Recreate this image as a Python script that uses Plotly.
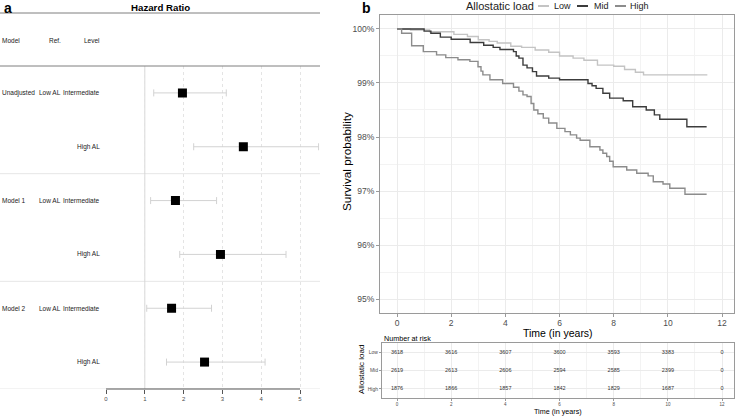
import plotly.graph_objects as go

W, H = 738, 416
FONT = "Liberation Sans, Arial, sans-serif"

def px(x):
    return x / W

def py(y):
    return 1 - y / H

# ---------------- Forest plot data (panel a) ----------------
models = ["Unadjusted", "", "Model 1", "", "Model 2", ""]
refs = ["Low AL", "", "Low AL", "", "Low AL", ""]
levels = ["Intermediate", "High AL", "Intermediate", "High AL", "Intermediate", "High AL"]
hr = [1.97, 3.54, 1.79, 2.95, 1.69, 2.54]
hr_low = [1.23, 2.26, 1.15, 1.90, 1.05, 1.56]
hr_high = [3.10, 5.48, 2.85, 4.64, 2.72, 4.10]
hr_ticks = [0, 1, 2, 3, 4, 5]

# ---------------- Kaplan-Meier data (panel b) ----------------
groups = ["Low", "Mid", "High"]
colors = ["#c4c4c4", "#3c3c3c", "#8c8c8c"]

t_low = [0, 0.5, 1.2, 2.1, 2.6, 3.0, 3.4, 3.7, 4.2, 4.6, 5.1, 5.6, 6.0, 6.5, 6.9, 7.4, 8.0, 8.4, 8.8, 9.1, 11.43]
s_low = [1.0, 0.9998, 0.9995, 0.9990, 0.9986, 0.9980, 0.9977, 0.9974, 0.9968, 0.9966, 0.9961, 0.9957, 0.9950,
         0.9946, 0.9942, 0.9933, 0.9931, 0.9925, 0.9920, 0.9915, 0.9914]

t_mid = [0, 1.0, 1.25, 1.6, 2.0, 2.7, 3.2, 3.55, 3.8, 4.3, 4.4, 4.5, 4.65, 4.8, 5.0, 5.15, 5.6, 6.0, 7.05, 7.2,
         7.35, 7.6, 7.85, 8.35, 8.7, 9.2, 9.5, 9.7, 10.7, 11.43]
s_mid = [1.0, 0.9996, 0.9992, 0.9985, 0.9981, 0.9975, 0.9970, 0.9966, 0.9962, 0.9958, 0.9950, 0.9946, 0.9933,
         0.9928, 0.9921, 0.9913, 0.9909, 0.9906, 0.9899, 0.9895, 0.9890, 0.9881, 0.9872, 0.9867, 0.9856, 0.9850,
         0.9841, 0.9833, 0.9819, 0.9819]

t_high = [0, 0.17, 0.54, 0.97, 1.46, 1.8, 2.25, 2.69, 2.99, 3.1, 3.17, 3.43, 3.9, 4.3, 4.5, 4.65, 4.8, 4.95, 5.05,
          5.2, 5.4, 5.6, 5.9, 6.2, 6.4, 6.63, 6.76, 7.12, 7.49, 7.6, 7.74, 7.85, 7.98, 8.48, 8.85, 9.27, 9.46,
          9.82, 10.07, 10.63, 11.43]
s_high = [1.0, 0.9992, 0.9969, 0.9958, 0.9952, 0.9947, 0.9943, 0.9940, 0.9930, 0.9922, 0.9915, 0.9906, 0.9899,
          0.9892, 0.9885, 0.9878, 0.9875, 0.9862, 0.9850, 0.9843, 0.9835, 0.9826, 0.9816, 0.9810, 0.9804, 0.9798,
          0.9794, 0.9782, 0.9776, 0.9770, 0.9764, 0.9755, 0.9745, 0.9739, 0.9733, 0.9728, 0.9717, 0.9713, 0.9705,
          0.9694, 0.9694]

times = [t_low, t_mid, t_high]
survs = [s_low, s_mid, s_high]

# ---------------- Number at risk ----------------
risk_times = [0, 2, 4, 6, 8, 10, 12]
risk_low = [3618, 3616, 3607, 3600, 3593, 3383, 0]
risk_mid = [2619, 2613, 2606, 2594, 2585, 2399, 0]
risk_high = [1876, 1866, 1857, 1842, 1829, 1687, 0]
risk = [risk_low, risk_mid, risk_high]

fig = go.Figure()

# ---- forest traces ----
rows = list(range(len(hr)))
fig.add_trace(go.Scatter(
    x=hr, y=rows, mode="markers", xaxis="x", yaxis="y",
    marker=dict(symbol="square", size=9, color="black"),
    error_x=dict(type="data", symmetric=False,
                 array=[h - m for h, m in zip(hr_high, hr)],
                 arrayminus=[m - l for m, l in zip(hr, hr_low)],
                 color="#d2d2d2", thickness=1, width=3.5),
    showlegend=False, hoverinfo="skip"))

# ---- KM traces ----
for g, c, t, s in zip(groups, colors, times, survs):
    fig.add_trace(go.Scatter(x=t, y=s, mode="lines", line=dict(color=c, width=1.4, shape="hv"),
                             xaxis="x2", yaxis="y2", name=g, showlegend=False))

# ---- risk table ----
for g, r in zip(groups, risk):
    fig.add_trace(go.Scatter(x=risk_times, y=[g] * len(risk_times), mode="text",
                             text=[str(v) for v in r], textfont=dict(size=5.5, color="#333333", family=FONT),
                             xaxis="x3", yaxis="y3", showlegend=False, hoverinfo="skip"))

tickfont_small = dict(size=6, color="#4d4d4d", family=FONT)
tickfont_km = dict(size=8.5, color="#4d4d4d", family=FONT)

fig.update_layout(
    template="none",
    width=W, height=H, margin=dict(l=0, r=0, t=0, b=0, pad=0),
    paper_bgcolor="white", plot_bgcolor="white",
    font=dict(family=FONT, color="black"),
    xaxis=dict(domain=[px(106), px(319.4)], range=[0, 5.5], tickvals=hr_ticks, anchor="y",
               showgrid=True, gridcolor="#e4e4e4", griddash="dot", gridwidth=1,
               zeroline=False, showline=False, ticks="outside", ticklen=4, tickcolor="#555555",
               tickfont=tickfont_small, fixedrange=True, automargin=False),
    yaxis=dict(domain=[py(389), py(66)], range=[5.5, -0.5], showgrid=False, zeroline=False, anchor="x",
               showticklabels=False, ticks="", fixedrange=True, automargin=False),
    xaxis2=dict(domain=[px(380), px(734)], range=[-0.628, 12.44], tickvals=[0, 2, 4, 6, 8, 10, 12],
                anchor="y2", automargin=False, ticklabelstandoff=-1,
                showgrid=True, gridcolor="#ebebeb", gridwidth=1,
                minor=dict(dtick=1, tick0=0, showgrid=True, gridcolor="#f3f3f3", gridwidth=1),
                zeroline=False, showline=True, mirror=True, linecolor="#9a9a9a", linewidth=1,
                ticks="outside", ticklen=3, tickcolor="#9a9a9a", tickfont=tickfont_km),
    yaxis2=dict(domain=[py(313), py(15)], range=[0.94741, 1.00259], tickvals=[0.95, 0.96, 0.97, 0.98, 0.99, 1.0],
                anchor="x2", automargin=False,
                tickformat=".0%", showgrid=True, gridcolor="#ebebeb", gridwidth=1,
                minor=dict(dtick=0.005, tick0=0.95, showgrid=True, gridcolor="#f3f3f3", gridwidth=1),
                zeroline=False, showline=True, mirror=True, linecolor="#9a9a9a", linewidth=1,
                ticks="outside", ticklen=3, tickcolor="#9a9a9a", tickfont=tickfont_km),
    xaxis3=dict(domain=[px(382), px(734)], range=[-0.554, 12.44], tickvals=risk_times,
                anchor="y3", automargin=False,
                showgrid=True, gridcolor="#ebebeb", gridwidth=1,
                minor=dict(dtick=1, tick0=0, showgrid=True, gridcolor="#f3f3f3", gridwidth=1),
                zeroline=False, showline=True, mirror=True, linecolor="#9a9a9a", linewidth=1,
                ticks="outside", ticklen=2, tickcolor="#9a9a9a",
                tickfont=dict(size=4.5, color="#4d4d4d", family=FONT)),
    yaxis3=dict(domain=[py(398), py(343)], type="category", categoryorder="array",
                anchor="x3", automargin=False,
                categoryarray=groups[::-1], range=[-0.5, 2.5],
                showgrid=True, gridcolor="#ebebeb", gridwidth=1,
                zeroline=False, showline=True, mirror=True, linecolor="#9a9a9a", linewidth=1,
                ticks="outside", ticklen=2, tickcolor="#9a9a9a",
                tickfont=dict(size=5, color="#4d4d4d", family=FONT)),
)

shapes = []
# header lines
for yy in (13, 66):
    shapes.append(dict(type="line", xref="paper", yref="paper", x0=0, x1=px(320), y0=py(yy), y1=py(yy),
                       line=dict(color="#7f7f7f", width=1)))
# group separators
for yy in (1.5, 3.5, 5.5):
    shapes.append(dict(type="line", xref="paper", yref="y", x0=0, x1=px(320), y0=yy, y1=yy,
                       line=dict(color="#e6e6e6", width=1), layer="below"))
# reference line at HR = 1
shapes.append(dict(type="line", xref="x", yref="paper", x0=1, x1=1, y0=py(389), y1=py(66),
                   line=dict(color="#d6d6d6", width=1), layer="below"))
# forest x axis line
shapes.append(dict(type="line", xref="x", yref="paper", x0=hr_ticks[0], x1=hr_ticks[-1], y0=py(389), y1=py(389),
                   line=dict(color="#555555", width=1)))

TXT = dict(size=6.5, family=FONT, color="#222222")
annotations = []
# panel letters and title
annotations.append(dict(text="<b>a</b>", x=px(2), y=py(8), xref="paper", yref="paper", xanchor="left",
                        yanchor="middle", showarrow=False, font=dict(size=14, family=FONT)))
annotations.append(dict(text="<b>b</b>", x=px(360), y=py(8), xref="paper", yref="paper", xanchor="left",
                        yanchor="middle", showarrow=False, font=dict(size=14, family=FONT)))
annotations.append(dict(text="<b>Hazard Ratio</b>", x=px(160), y=py(7), xref="paper", yref="paper",
                        xanchor="center", yanchor="middle", showarrow=False, font=dict(size=9.7, family=FONT)))
# forest headers
for txt, xx, anc in (("Model", 0, "left"), ("Ref.", 47, "left"), ("Level", 102, "right")):
    annotations.append(dict(text=txt, x=px(xx), y=py(41), xref="paper", yref="paper", xanchor=anc,
                            yanchor="middle", showarrow=False, font=TXT))
for i in rows:
    if models[i]:
        annotations.append(dict(text=models[i], x=0, y=i, xref="paper", yref="y", xanchor="left",
                                yanchor="middle", showarrow=False, font=TXT))
    if refs[i]:
        annotations.append(dict(text=refs[i], x=px(37), y=i, xref="paper", yref="y", xanchor="left",
                                yanchor="middle", showarrow=False, font=TXT))
    annotations.append(dict(text=levels[i], x=px(102), y=i, xref="paper", yref="y", xanchor="right",
                            yanchor="middle", showarrow=False, font=TXT))

# KM legend (manual)
annotations.append(dict(text="Allostatic load", x=px(464), y=py(6), xref="paper", yref="paper", xanchor="left",
                        yanchor="middle", showarrow=False, font=dict(size=11, family=FONT, color="#222222")))
sw_x = [538, 577, 615]
lab_x = [552, 592, 628]
for g, c, sx, lx in zip(groups, colors, sw_x, lab_x):
    shapes.append(dict(type="line", xref="paper", yref="paper", x0=px(sx), x1=px(sx + 11), y0=py(6), y1=py(6),
                       line=dict(color=c, width=2)))
    annotations.append(dict(text=g, x=px(lx), y=py(6), xref="paper", yref="paper", xanchor="left",
                            yanchor="middle", showarrow=False, font=dict(size=9, family=FONT, color="#222222")))

# KM axis titles
annotations.append(dict(text="Survival probability", x=px(347), y=py(162), xref="paper", yref="paper",
                        xanchor="center", yanchor="middle", textangle=-90, showarrow=False,
                        font=dict(size=11.8, family=FONT, color="black")))
annotations.append(dict(text="Time (in years)", x=px(558), y=py(333), xref="paper", yref="paper",
                        xanchor="center", yanchor="middle", showarrow=False,
                        font=dict(size=10.5, family=FONT, color="black")))
# risk table titles
annotations.append(dict(text="Number at risk", x=px(382), y=py(338), xref="paper", yref="paper",
                        xanchor="left", yanchor="middle", showarrow=False,
                        font=dict(size=7.2, family=FONT, color="black")))
annotations.append(dict(text="Allostatic load", x=px(361), y=py(370), xref="paper", yref="paper",
                        xanchor="center", yanchor="middle", textangle=-90, showarrow=False,
                        font=dict(size=8, family=FONT, color="black")))
annotations.append(dict(text="Time (in years)", x=px(558), y=py(411), xref="paper", yref="paper",
                        xanchor="center", yanchor="middle", showarrow=False,
                        font=dict(size=7.2, family=FONT, color="black")))

fig.update_layout(shapes=shapes, annotations=annotations)
fig.write_html("out.html", config={"displayModeBar": False},
               post_script="document.body.style.margin='0';document.body.style.padding='0';")
